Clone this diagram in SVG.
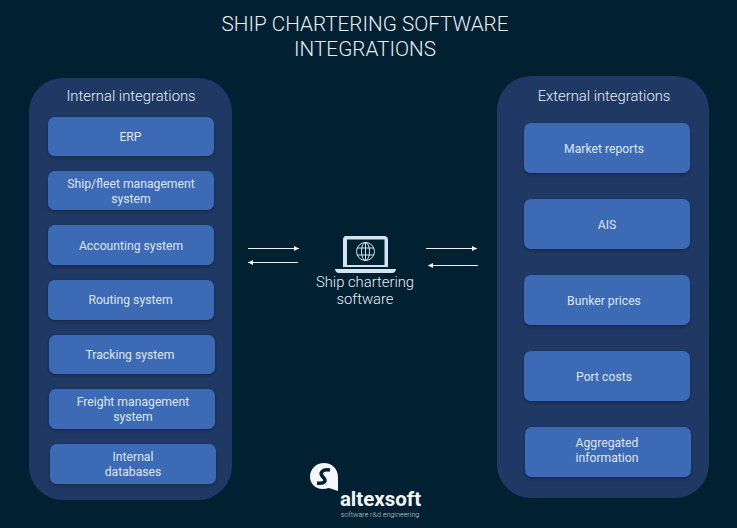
<svg xmlns="http://www.w3.org/2000/svg" width="737" height="528" viewBox="0 0 737 528">
<style>
text{font-family:Roboto,"Noto Sans",sans-serif;fill:#dde6f2;text-anchor:middle}
.t{font-size:20.7px;font-weight:300;fill:#e8eef6}
.h{font-size:14.800px;font-weight:300;fill:#e8eef6}
.n{font-size:12.2px;fill:#dbe5f3}
.panel{fill:#203864}
.box{fill:#3e6ab5;filter:url(#s)}
.c{stroke:#eef3f8;stroke-width:1;fill:none;marker-end:url(#a)}
.ic{fill:#d5e3f0}
</style>
<defs>
<filter id="s" x="-10%" y="-20%" width="120%" height="150%"><feDropShadow dx="0" dy="1.500" stdDeviation="1.500" flood-color="#0c1a33" flood-opacity=".6"/></filter>
<marker id="a" markerWidth="6" markerHeight="6" refX="5" refY="3" orient="auto" markerUnits="userSpaceOnUse"><path d="M0 .5L5 3L0 5.500Z" fill="#eef3f8"/></marker>
</defs>
<rect width="737" height="528" fill="#012031"/>
<g id="title"><text class="t" x="365" y="31">SHIP CHARTERING SOFTWARE</text><text class="t" x="365" y="56">INTEGRATIONS</text></g>
<g id="internal"><rect class="panel" x="29" y="78" width="203" height="422" rx="34"/><text class="h" x="131" y="101">Internal integrations</text></g>
<g id="external"><rect class="panel" x="497" y="76" width="212" height="422" rx="34"/><text class="h" x="604" y="101">External integrations</text></g>
<g id="erp"><rect class="box" x="48" y="117" width="166" height="39" rx="7"/><text class="n" x="130.500" y="141">ERP</text></g>
<g id="fleet"><rect class="box" x="48" y="171" width="166" height="39" rx="7"/><text class="n" x="131" y="188">Ship/fleet management</text><text class="n" x="131" y="203">system</text></g>
<g id="accounting"><rect class="box" x="48" y="225" width="166" height="40" rx="7"/><text class="n" x="131" y="250">Accounting system</text></g>
<g id="routing"><rect class="box" x="48" y="280" width="166" height="40" rx="7"/><text class="n" x="130.500" y="304">Routing system</text></g>
<g id="tracking"><rect class="box" x="49" y="335" width="166" height="39" rx="7"/><text class="n" x="130" y="359">Tracking system</text></g>
<g id="freight"><rect class="box" x="49" y="389" width="166" height="40" rx="7"/><text class="n" x="133" y="406">Freight management</text><text class="n" x="133" y="421">system</text></g>
<g id="databases"><rect class="box" x="50" y="444" width="166" height="40" rx="7"/><text class="n" x="133" y="461">Internal</text><text class="n" x="133" y="476">databases</text></g>
<g id="market"><rect class="box" x="524" y="123" width="166" height="50" rx="7"/><text class="n" x="604" y="153">Market reports</text></g>
<g id="ais"><rect class="box" x="524" y="199" width="166" height="50" rx="7"/><text class="n" x="607" y="229">AIS</text></g>
<g id="bunker"><rect class="box" x="524" y="275" width="166" height="50" rx="7"/><text class="n" x="604" y="305">Bunker prices</text></g>
<g id="port"><rect class="box" x="524" y="351" width="166" height="50" rx="7"/><text class="n" x="604" y="381">Port costs</text></g>
<g id="aggregated"><rect class="box" x="525" y="427" width="166" height="50" rx="7"/><text class="n" x="607" y="447">Aggregated</text><text class="n" x="607" y="462">information</text></g>
<g id="connectors">
<path class="c" d="M248 248.500H299"/><path class="c" d="M298 262.500H248"/><path class="c" d="M426 248.500H477"/><path class="c" d="M478 265.500H428"/>
</g>
<g id="software">
<path class="ic" fill-rule="evenodd" d="M346 236H384Q388 236 388 240V267H343V240Q343 236 346 236ZM347 239.500V265H384.500V239.500Z"/>
<path class="ic" d="M335 269H396Q395.500 273 392 273H339Q335.500 273 335 269Z"/>
<g fill="none" stroke="#d5e3f0" stroke-width="1"><circle cx="365.500" cy="251.500" r="9"/><ellipse cx="365.500" cy="251.500" rx="4" ry="9"/><path d="M357 248H374M357 255H374M365.500 242.500V260.500"/></g>
<text class="h" x="365" y="287">Ship chartering</text><text class="h" x="365" y="304">software</text>
</g>
<g id="logo">
<path fill="#f4f7fa" d="M324 463C332 463 338 469 338 477V491L329 488C317 492 310 484 310 477C310 469 316 463 324 463Z"/>
<path fill="none" stroke="#012031" stroke-width="3.500" d="M330 470C322 469 319 473 323 477C327 481 325 484 317 483"/>
<text x="380.500" y="505.500" style="font-size:20.500px;font-weight:700;fill:#f4f7fa">altexsoft</text>
<text x="380" y="516.500" style="font-size:7.200px;font-weight:300;fill:#cdd6df">software r&amp;d engineering</text>
</g>
</svg>
